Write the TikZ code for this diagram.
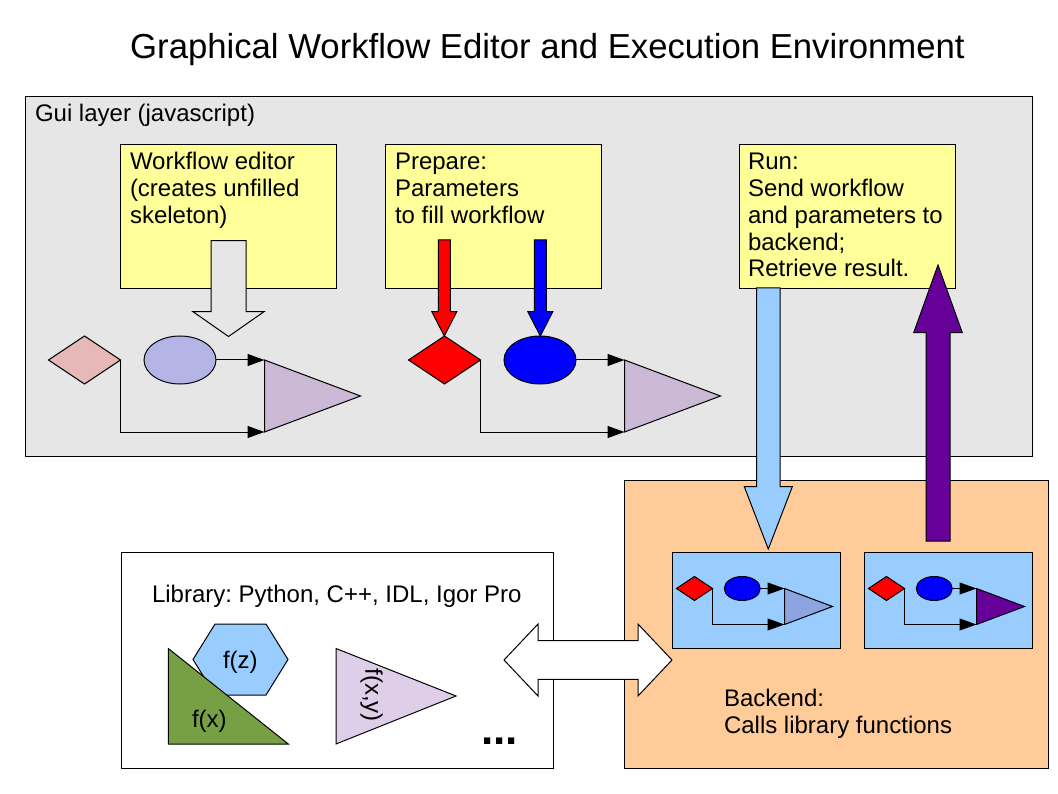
\documentclass[tikz,border=0pt]{standalone}
\usepackage{fontspec}
\setmainfont{Liberation Sans}
\usetikzlibrary{shapes.geometric,arrows.meta}
\definecolor{guibg}{HTML}{E6E6E6}
\definecolor{note}{HTML}{FFFF99}
\definecolor{peach}{HTML}{FFCC99}
\definecolor{sky}{HTML}{99CCFF}
\definecolor{pinkd}{HTML}{E6B9B8}
\definecolor{lavell}{HTML}{B4B4E6}
\definecolor{lilac}{HTML}{CCB9D6}
\definecolor{periw}{HTML}{8EA4E0}
\definecolor{grape}{HTML}{660099}
\definecolor{olive}{HTML}{77A044}
\definecolor{mauve}{HTML}{DECEE8}
\frenchspacing
\newcommand{\bodyfont}{\fontsize{24}{26.7}\selectfont}
% vertical block arrow: style, cx, y tail, y head base, y tip, half shaft, half head
\newcommand{\vArrow}[7]{%
  \draw[#1] ({#2-#6},#3) -- ({#2+#6},#3) -- ({#2+#6},#4) -- ({#2+#7},#4) -- (#2,#5)
    -- ({#2-#7},#4) -- ({#2-#6},#4) -- cycle;}
% small workflow: prefix, x, y of diamond centre, scale, colours
\newcommand{\wflow}[7]{%
  \node[dia, fill=#5, minimum width={72*#4}, minimum height={48*#4}] (#1d) at (#2,#3) {};
  \node[ell, fill=#6, minimum width={72*#4}, minimum height={48*#4}] (#1e) at ({#2+95.5*#4},#3) {};
  \coordinate (#1t1) at ({#2+180*#4},#3);
  \coordinate (#1t2) at ({#2+180*#4},{#3+72*#4});
  \coordinate (#1t3) at ({#2+276*#4},{#3+36*#4});
  \draw[tri, fill=#7] (#1t1) -- (#1t2) -- (#1t3) -- cycle;
  \draw[con] (#1e.east) -- (#1t1);
  \draw[con] (#1d.east) |- (#1t2);}
\begin{document}
\begin{tikzpicture}[x=1pt,y=-1pt,
  box/.style={draw=black, line width=1pt, inner sep=0pt, outer sep=0pt, anchor=north west},
  lbl/.style={anchor=base west, inner sep=0pt, outer sep=0pt, font=\bodyfont},
  dia/.style={shape=diamond, draw, line width=1pt, inner sep=0pt, outer sep=0pt},
  ell/.style={shape=ellipse, draw, line width=1pt, inner sep=0pt, outer sep=0pt},
  tri/.style={draw, line width=1pt, line join=miter},
  con/.style={draw, line width=1pt, -{Triangle[length=17pt,width=12pt]}},
  blk/.style={draw, line width=1pt, line join=miter}]
\useasboundingbox[fill=white] (0,0) rectangle (1058,794);

% title
\node[anchor=base west, inner sep=0pt, font=\fontsize{34.7}{40}\selectfont] (title) at (130,59)
  {Graphical Workflow Editor and Execution Environment};

% GUI layer
\node[box, fill=guibg, minimum width=1007, minimum height=359] (gui) at (25,97) {};
\node[lbl] (guiTxt) at (35,122) {Gui layer (javascript)};

\node[box, fill=note, minimum width=216, minimum height=144] (edit) at (120,145) {};
\node[box, fill=note, minimum width=216, minimum height=144] (prep) at (385,145) {};
\node[box, fill=note, minimum width=216, minimum height=144] (run) at (739,145) {};
\node[lbl] (editTxt) at (130,170) {\begin{tabular}[t]{@{}l@{}}Workflow editor\\(creates unfilled\\skeleton)\end{tabular}};
\node[lbl] (prepTxt) at (395,170) {\begin{tabular}[t]{@{}l@{}}Prepare:\\Parameters\\to fill workflow\end{tabular}};
\node[lbl] (runTxt) at (748,170) {\begin{tabular}[t]{@{}l@{}}Run:\\Send workflow\\and parameters to\\backend;\\Retrieve result.\end{tabular}};

\vArrow{blk, fill=guibg}{228.5}{240.7}{311.7}{336.5}{17.5}{35.5}
\vArrow{blk, fill=red}{444.3}{240}{311.7}{336}{6}{12.5}
\vArrow{blk, fill=blue}{540.3}{240}{311.7}{336}{6}{12.5}

\wflow{g}{84.5}{360}{1}{pinkd}{lavell}{lilac}
\wflow{p}{444.5}{360}{1}{red}{blue}{lilac}

% backend
\node[box, fill=peach, minimum width=424, minimum height=288] (back) at (624,480) {};
\node[box, fill=sky, minimum width=168, minimum height=96] (wfa) at (672,552) {};
\node[box, fill=sky, minimum width=168, minimum height=96] (wfb) at (864,552) {};
\wflow{a}{694.5}{588.5}{0.5}{red}{blue}{periw}
\wflow{b}{886.5}{588.5}{0.5}{red}{blue}{grape}
\node[lbl] (backTxt) at (724,706.7) {\begin{tabular}[t]{@{}l@{}}Backend:\\Calls library functions\end{tabular}};

\vArrow{blk, fill=sky}{768.3}{288}{486.7}{549}{11.7}{24}
\vArrow{blk, fill=grape}{938}{541}{332.7}{265}{12}{24.3}

% library
\node[box, fill=white, minimum width=432, minimum height=216] (lib) at (121,552) {};
\node[lbl] (libTxt) at (152,602) {Library: Python, C++, IDL, Igor Pro};
\draw[tri, fill=sky] (193,659.5) -- (215,624) -- (266,624) -- (288,659.5) -- (266,695) -- (215,695) -- cycle;
\draw[tri, fill=olive] (168.3,648.5) -- (168.3,744) -- (288.3,744) -- cycle;
\draw[tri, fill=mauve] (336,648.5) -- (336,744) -- (456,696) -- cycle;
\node[lbl] (fz) at (223,668) {f(z)};
\node[lbl] (fx) at (192,727) {f(x)};
\node[inner sep=0pt, font=\bodyfont, rotate=-90] (fxy) at (371.5,695) {f(x,y)};
\node[anchor=base west, inner sep=0pt, font=\fontsize{44}{50}\selectfont\bfseries] (dots) at (481,744) {...};

% library <-> backend
\draw[blk, fill=white] (504,660) -- (538,624) -- (538,640.7) -- (638,640.7) -- (638,624) -- (672,660)
  -- (638,696) -- (638,679.3) -- (538,679.3) -- (538,696) -- cycle;
\end{tikzpicture}
\end{document}
